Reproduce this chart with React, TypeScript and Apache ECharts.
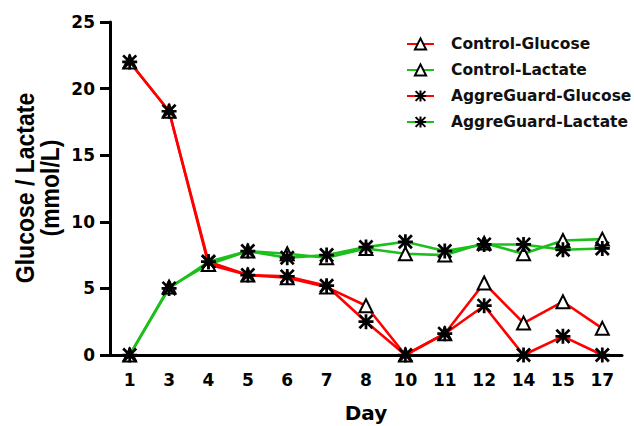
import React, { useEffect, useRef } from "react";
import * as echarts from "echarts";

const days = ["1", "3", "4", "5", "6", "7", "8", "10", "11", "12", "14", "15", "17"];
const controlGlucose = [22.0, 18.3, 6.8, 6.0, 5.8, 5.1, 3.7, 0, 1.6, 5.4, 2.4, 4.0, 2.0];
const controlLactate = [0, 5.1, 6.8, 7.8, 7.6, 7.3, 8.0, 7.6, 7.5, 8.4, 7.6, 8.6, 8.7];
const aggreGlucose = [22.0, 18.3, 7.0, 6.0, 5.9, 5.2, 2.5, 0, 1.6, 3.7, 0, 1.4, 0];
const aggreLactate = [0, 5.0, 7.0, 7.8, 7.3, 7.5, 8.1, 8.5, 7.8, 8.3, 8.3, 7.9, 8.0];

const yTicks = { min: 0, max: 25, interval: 5 };
const seriesNames = ["Control-Glucose", "Control-Lactate", "AggreGuard-Glucose", "AggreGuard-Lactate"];
const yTitleLines = ["Glucose / Lactate", "(mmol/L)"];

const RED = "#ff0000";
const GREEN = "#1cbf1c";
const FONT = "DejaVu Sans, sans-serif";
const TITLE_FONT = "Liberation Sans, Arial, sans-serif";

const star =
  "path://M4.5 0 h2 v11 h-2 z M0 4.5 h11 v2 h-11 z M1.4 0 L11 9.6 L9.6 11 L0 1.4 z M9.6 0 L11 1.4 L1.4 11 L0 9.6 z";

export default function App() {
  const ref = useRef<HTMLDivElement>(null);
  useEffect(() => {
    if (!ref.current) return;
    const chart = echarts.init(ref.current, undefined, { renderer: "svg" });
    const mk = (name: string, data: number[], color: string, tri: boolean) => ({
      name,
      type: "line",
      data,
      symbol: tri ? "triangle" : star,
      symbolSize: tri ? 13 : 15,
      showAllSymbol: true,
      lineStyle: { color, width: 2.6 },
      itemStyle: tri
        ? { color: "#ffffff", borderColor: "#000000", borderWidth: 2 }
        : { color: "#000000", borderColor: "#000000", borderWidth: 0 },
      color,
      z: 2,
    });
    chart.setOption({
      animation: false,
      backgroundColor: "#ffffff",
      grid: {
        left: 110,
        right: 12,
        top: 22,
        bottom: 71,
        containLabel: false,
        outerBoundsMode: "none",
      },
      legend: {
        left: 401,
        top: 31,
        orient: "vertical",
        itemWidth: 27,
        itemHeight: 14,
        itemGap: 10,
        textStyle: {
          fontFamily: FONT,
          fontWeight: "bold",
          fontSize: 15.5,
          lineHeight: 14,
          color: "#111",
          padding: [0, 0, 0, 12],
        },
        data: seriesNames,
      },
      xAxis: {
        type: "category",
        data: days,
        boundaryGap: true,
        name: "Day",
        nameLocation: "middle",
        nameGap: 48,
        nameTextStyle: { fontFamily: FONT, fontWeight: "bold", fontSize: 20, color: "#000" },
        axisLine: { lineStyle: { color: "#000", width: 3 } },
        axisTick: { alignWithLabel: true, length: 10, lineStyle: { color: "#000", width: 3 } },
        axisLabel: { fontFamily: FONT, fontWeight: "bold", fontSize: 17, color: "#000", margin: 16 },
        splitLine: { show: false },
      },
      yAxis: {
        type: "value",
        min: yTicks.min,
        max: yTicks.max,
        interval: yTicks.interval,
        axisLine: { show: true, lineStyle: { color: "#000", width: 3 } },
        axisTick: { show: true, length: 10, lineStyle: { color: "#000", width: 3 } },
        axisLabel: { fontFamily: FONT, fontWeight: "bold", fontSize: 17, color: "#000", margin: 15 },
        splitLine: { show: false },
      },
      graphic: [
        {
          type: "text",
          x: 25,
          y: 188,
          rotation: Math.PI / 2,
          scaleY: 1.12,
          style: {
            text: yTitleLines[0],
            fontFamily: TITLE_FONT,
            fontWeight: "bold",
            fontSize: 23,
            fill: "#000",
            align: "center",
            verticalAlign: "middle",
          },
        },
        {
          type: "text",
          x: 50,
          y: 188,
          rotation: Math.PI / 2,
          scaleY: 1.12,
          style: {
            text: yTitleLines[1],
            fontFamily: TITLE_FONT,
            fontWeight: "bold",
            fontSize: 23,
            fill: "#000",
            align: "center",
            verticalAlign: "middle",
          },
        },
      ],
      series: [
        mk(seriesNames[0], controlGlucose, RED, true),
        mk(seriesNames[1], controlLactate, GREEN, true),
        mk(seriesNames[2], aggreGlucose, RED, false),
        mk(seriesNames[3], aggreLactate, GREEN, false),
      ],
    });
    return () => chart.dispose();
  }, []);
  return <div ref={ref} style={{ width: 634, height: 426, position: "absolute", left: 0, top: 0 }} />;
}
